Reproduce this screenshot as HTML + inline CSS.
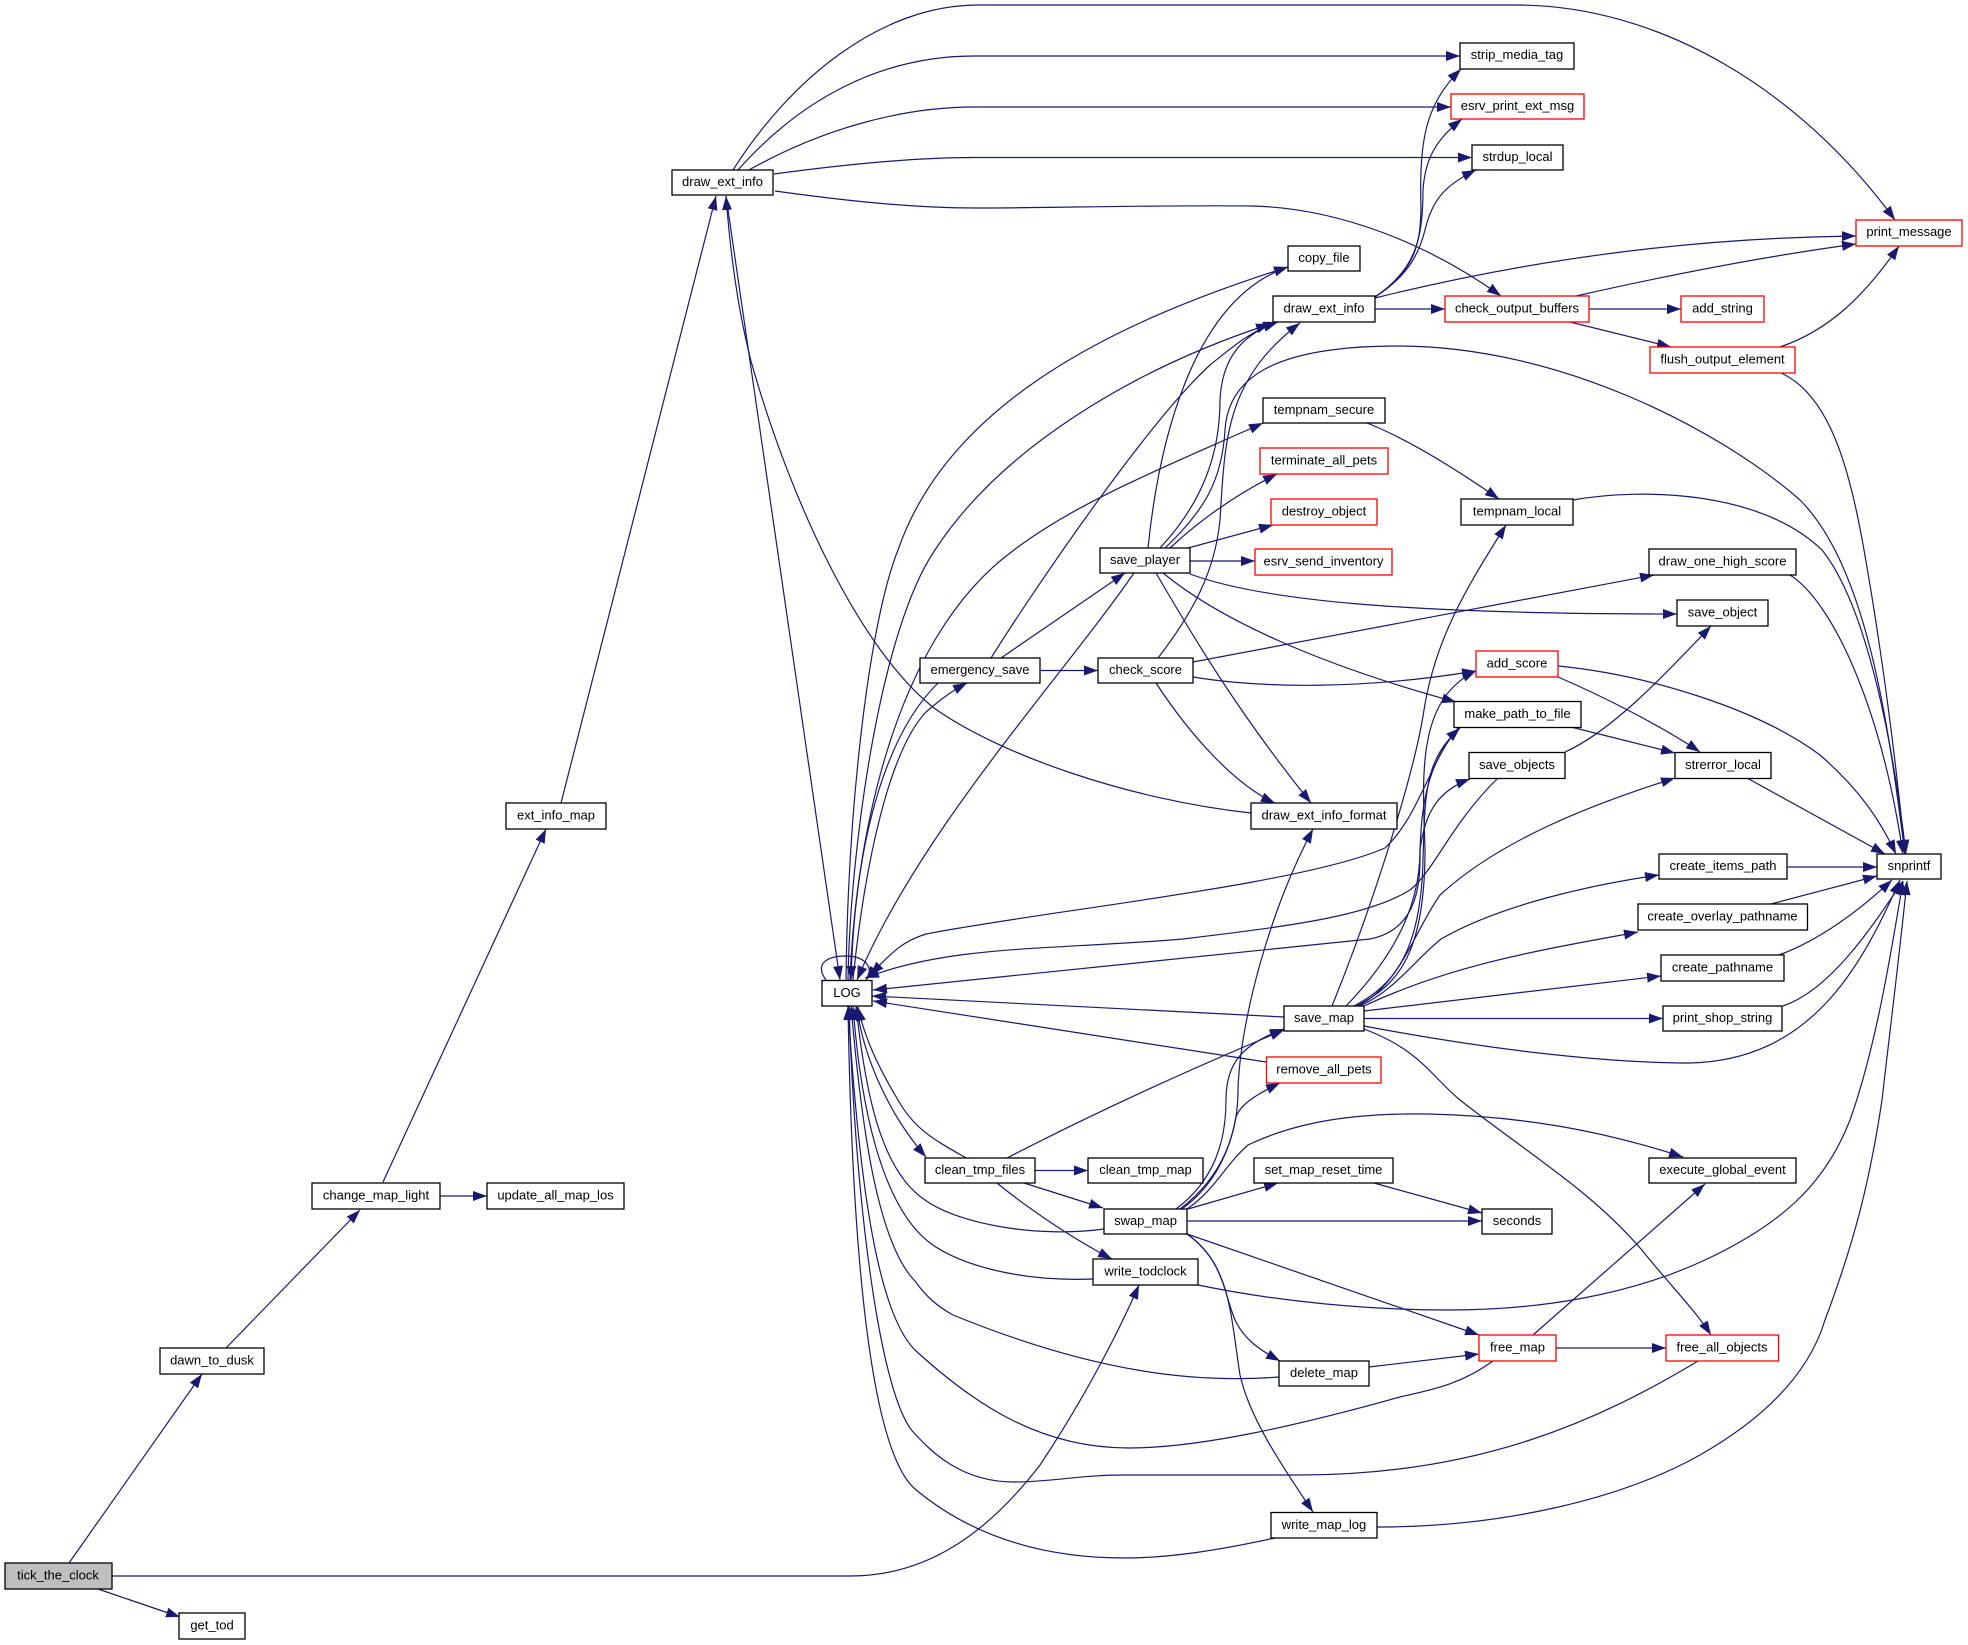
<!DOCTYPE html>
<html><head><meta charset="utf-8"><title>tick_the_clock call graph</title>
<style>
html,body{margin:0;padding:0;background:#fff}
svg{display:block;filter:blur(.3px)}
text{font-family:"Liberation Sans",sans-serif;font-size:13px;text-anchor:middle;fill:#000}
rect{fill:#fff;stroke:#000;stroke-width:1.3}
rect.r{stroke:#f00}
path.e{fill:none;stroke:#191970;stroke-width:1.2;marker-end:url(#a)}
</style></head><body>
<svg xmlns="http://www.w3.org/2000/svg" width="1968" height="1645" viewBox="0 0 1968 1645">
<defs><marker id="a" markerUnits="userSpaceOnUse" markerWidth="15" markerHeight="11" refX="14" refY="5" orient="auto"><path d="M0,0L14,5L0,10Z" fill="#191970"/></marker></defs>
<g>
<path class="e" d="M69,1563L202,1374"/>
<path class="e" d="M98,1589L180,1617"/>
<path class="e" d="M112,1576L850,1576C930,1576 990,1530 1040,1465C1080,1405 1115,1340 1139,1285"/>
<path class="e" d="M226,1348L360,1210"/>
<path class="e" d="M440,1196L487,1196"/>
<path class="e" d="M383,1182L546,829"/>
<path class="e" d="M561,803L716,196"/>
<path class="e" d="M733,170C790,80 880,5 978,5L1516,5C1660,5 1800,90 1895,220"/>
<path class="e" d="M738,170C800,100 880,56 974,56L1460,56"/>
<path class="e" d="M749,170C820,130 900,107 974,107L1451,107"/>
<path class="e" d="M774,174C840,165 910,157.500 974,157.500L1472,157.500"/>
<path class="e" d="M775,191C840,200 910,208 974,208C1050,208 1150,205 1252,206C1340,208 1430,245 1501,296"/>
<path class="e" d="M1375,297C1415,270 1420,245 1421,210C1419,140 1425,105 1461,69"/>
<path class="e" d="M1375,297C1415,270 1423,240 1423,190C1425,160 1435,140 1462,119"/>
<path class="e" d="M1375,297C1410,275 1420,250 1425,230C1432,200 1445,185 1476,170"/>
<path class="e" d="M1375,298C1520,262 1680,238 1856,236"/>
<path class="e" d="M1375,309L1445,309"/>
<path class="e" d="M1576,296C1660,277 1760,257 1856,244"/>
<path class="e" d="M1589,309L1681,309"/>
<path class="e" d="M1570,322L1671,347"/>
<path class="e" d="M1780,347C1830,330 1865,295 1899,246"/>
<path class="e" d="M1781,373C1830,395 1850,470 1864,550C1880,640 1895,750 1905,854"/>
<path class="e" d="M1573,500C1640,488 1760,490 1822,550C1870,610 1895,760 1906,854"/>
<path class="e" d="M1790,575C1830,600 1880,700 1903,854"/>
<path class="e" d="M1158,658C1195,610 1215,570 1220,520C1225,440 1225,380 1300,323"/>
<path class="e" d="M1165,548C1205,510 1222,480 1225,430C1228,380 1270,346 1398,346C1560,346 1720,430 1800,500C1870,570 1890,740 1905,854"/>
<path class="e" d="M1148,548C1158,450 1190,300 1288,267"/>
<path class="e" d="M1160,548C1205,500 1220,450 1220,400C1222,360 1240,335 1278,322"/>
<path class="e" d="M991,658C1040,580 1150,420 1210,365C1235,345 1250,332 1277,322"/>
<path class="e" d="M848,980C850,850 880,630 935,550C1000,450 1130,370 1270,324"/>
<path class="e" d="M846,980C848,800 870,620 898,550C950,400 1120,320 1288,267"/>
<path class="e" d="M850,980C855,850 890,640 1014,550C1080,500 1170,465 1263,423"/>
<path class="e" d="M1134,573C1060,680 920,830 857,980"/>
<path class="e" d="M1001,658L1125,573"/>
<path class="e" d="M726,196L840,980"/>
<path class="e" d="M1251,813C1130,800 1000,755 934,708C860,650 790,500 751,361C738,310 730,250 726,196"/>
<path class="e" d="M1170,548C1200,520 1235,495 1277,474"/>
<path class="e" d="M1188,548L1273,525"/>
<path class="e" d="M1190,561L1255,561"/>
<path class="e" d="M1190,574C1260,600 1400,614 1677,614"/>
<path class="e" d="M1163,573C1220,620 1320,665 1456,702"/>
<path class="e" d="M1156,573C1195,640 1240,715 1311,803"/>
<path class="e" d="M1193,662L1654,575"/>
<path class="e" d="M1193,677C1260,688 1360,690 1476,671"/>
<path class="e" d="M1156,683C1190,735 1235,785 1275,803"/>
<path class="e" d="M1040,670.500L1098,670.500"/>
<path class="e" d="M938,683C890,730 855,830 851,980"/>
<path class="e" d="M853,980C865,860 890,750 926,712C940,700 950,692 967,683"/>
<path class="e" d="M826,980C815,965 825,956 846,956C865,956 875,968 866,980"/>
<path class="e" d="M1459,727C1430,760 1420,815 1385,848C1300,885 1050,910 926,934C900,942 890,955 870,975"/>
<path class="e" d="M1498,778C1450,825 1435,870 1410,890C1370,915 1300,925 1183,939C1050,950 950,945 865,978"/>
<path class="e" d="M1459,727C1430,760 1420,800 1420,860C1420,905 1405,932 1370,939L873,990"/>
<path class="e" d="M1346,1006C1400,950 1420,900 1420,850C1425,810 1440,790 1470,779"/>
<path class="e" d="M1354,1006C1395,985 1421,950 1423,860C1425,790 1425,760 1460,728"/>
<path class="e" d="M1356,1006C1400,985 1425,950 1425,850C1423,780 1415,700 1476,671"/>
<path class="e" d="M1332,1006C1375,900 1415,770 1424,710C1435,640 1465,590 1506,525"/>
<path class="e" d="M1358,1006C1400,985 1415,930 1440,895C1500,840 1590,805 1675,778"/>
<path class="e" d="M1360,1006C1395,990 1415,960 1441,939C1500,905 1590,885 1659,875"/>
<path class="e" d="M1362,1007C1450,965 1540,950 1638,932"/>
<path class="e" d="M1364,1011L1661,976"/>
<path class="e" d="M1364,1018.500L1663,1018.500"/>
<path class="e" d="M1364,1026C1480,1048 1600,1063 1690,1063C1810,1060 1860,970 1900,880"/>
<path class="e" d="M1364,1029C1420,1050 1430,1075 1460,1100C1530,1155 1590,1190 1641,1249C1670,1285 1695,1310 1711,1335"/>
<path class="e" d="M1284,1017L872,996"/>
<path class="e" d="M1266,1062L873,1001"/>
<path class="e" d="M1787,867L1877,867"/>
<path class="e" d="M1771,904L1877,876"/>
<path class="e" d="M1779,955C1820,940 1860,910 1892,880"/>
<path class="e" d="M1783,1006C1830,990 1870,930 1903,881"/>
<path class="e" d="M1747,778L1885,854"/>
<path class="e" d="M1571,727L1675,753"/>
<path class="e" d="M1565,752C1610,732 1660,680 1711,626"/>
<path class="e" d="M1558,677C1600,695 1660,725 1700,752"/>
<path class="e" d="M1558,666C1650,675 1760,710 1820,755C1860,790 1880,820 1896,854"/>
<path class="e" d="M1367,423C1405,438 1450,465 1499,499"/>
<path class="e" d="M1187,1234L1479,1335"/>
<path class="e" d="M1369,1367L1479,1354"/>
<path class="e" d="M1556,1348L1666,1348"/>
<path class="e" d="M1533,1335L1705,1184"/>
<path class="e" d="M1493,1361C1460,1385 1430,1390 1400,1397C1300,1425 1200,1448 1129,1448C1040,1448 975,1405 915,1350C880,1315 860,1200 848,1006"/>
<path class="e" d="M1698,1361C1600,1420 1480,1475 1300,1475L1125,1475C1080,1475 1050,1482 1014,1482C960,1482 930,1450 915,1434C880,1400 855,1200 849,1006"/>
<path class="e" d="M1275,1538C1220,1550 1170,1558 1125,1558C1040,1558 970,1535 915,1489C870,1450 852,1250 848,1006"/>
<path class="e" d="M1279,1377C1200,1383 1100,1375 953,1315C935,1305 925,1295 915,1281C875,1240 860,1110 851,1006"/>
<path class="e" d="M1093,1279C1020,1282 960,1265 930,1243C880,1205 860,1100 853,1006"/>
<path class="e" d="M1104,1229C1040,1238 960,1225 925,1200C880,1170 865,1090 856,1006"/>
<path class="e" d="M966,1158C935,1140 915,1130 898,1100C880,1070 865,1040 858,1007"/>
<path class="e" d="M857,1007C862,1050 885,1110 926,1157"/>
<path class="e" d="M1035,1170.500L1088,1170.500"/>
<path class="e" d="M1024,1183L1103,1208"/>
<path class="e" d="M997,1183C1030,1210 1075,1240 1112,1259"/>
<path class="e" d="M1007,1158C1100,1110 1200,1065 1284,1030"/>
<path class="e" d="M1176,1209C1215,1180 1226,1140 1226,1100C1226,1065 1240,1045 1284,1029"/>
<path class="e" d="M1180,1209C1225,1175 1238,1130 1238,1090C1240,1020 1270,910 1313,829"/>
<path class="e" d="M1182,1209C1215,1185 1230,1150 1236,1117C1240,1105 1255,1095 1280,1083"/>
<path class="e" d="M1187,1209C1215,1190 1225,1165 1248,1145C1300,1120 1360,1113 1428,1114C1520,1116 1600,1130 1683,1157"/>
<path class="e" d="M1188,1209L1278,1183"/>
<path class="e" d="M1187,1221L1482,1221"/>
<path class="e" d="M1374,1183L1482,1213"/>
<path class="e" d="M1187,1234C1225,1260 1225,1300 1236,1322C1245,1340 1260,1350 1280,1361"/>
<path class="e" d="M1187,1234C1230,1265 1230,1310 1240,1375C1250,1420 1285,1470 1313,1512"/>
<path class="e" d="M1198,1285C1280,1302 1370,1310 1449,1310C1540,1310 1630,1295 1705,1260C1780,1225 1825,1185 1850,1120C1875,1050 1890,960 1903,881"/>
<path class="e" d="M1377,1527C1500,1527 1620,1500 1700,1455C1770,1415 1810,1370 1825,1320C1855,1240 1870,1180 1882,1100C1890,1030 1900,950 1907,881"/>
</g>
<g>
<rect x="5" y="1563" width="107" height="26" style="fill:#bfbfbf"/><text x="58" y="1579.500">tick_the_clock</text>
<rect x="160" y="1348" width="104" height="26"/><text x="212" y="1364.500">dawn_to_dusk</text>
<rect x="179" y="1613" width="66" height="26"/><text x="212" y="1629.500">get_tod</text>
<rect x="312" y="1183" width="128" height="26"/><text x="376" y="1199.500">change_map_light</text>
<rect x="487" y="1183" width="137" height="26"/><text x="555.500" y="1199.500">update_all_map_los</text>
<rect x="506" y="803" width="100" height="26"/><text x="556" y="819.500">ext_info_map</text>
<rect x="672" y="170" width="101" height="25"/><text x="722.500" y="186">draw_ext_info</text>
<rect x="1460" y="43" width="114" height="26"/><text x="1517" y="59">strip_media_tag</text>
<rect class="r" x="1451" y="94" width="133" height="25"/><text x="1517.500" y="110">esrv_print_ext_msg</text>
<rect x="1472" y="145" width="91" height="25"/><text x="1517.500" y="161">strdup_local</text>
<rect class="r" x="1856" y="220" width="106" height="26"/><text x="1909" y="236">print_message</text>
<rect x="1288" y="246" width="72" height="25"/><text x="1324" y="262">copy_file</text>
<rect x="1273" y="296" width="102" height="26"/><text x="1324" y="312.500">draw_ext_info</text>
<rect class="r" x="1445" y="296" width="144" height="26"/><text x="1517" y="312.500">check_output_buffers</text>
<rect class="r" x="1681" y="296" width="83" height="26"/><text x="1722.500" y="312.500">add_string</text>
<rect class="r" x="1650" y="347" width="145" height="26"/><text x="1722.500" y="363.500">flush_output_element</text>
<rect x="1263" y="398" width="122" height="25"/><text x="1324" y="414">tempnam_secure</text>
<rect class="r" x="1260" y="448" width="128" height="26"/><text x="1324" y="464.500">terminate_all_pets</text>
<rect class="r" x="1271" y="499" width="106" height="26"/><text x="1324" y="515.500">destroy_object</text>
<rect x="1461" y="499" width="112" height="26"/><text x="1517" y="515.500">tempnam_local</text>
<rect x="1100" y="548" width="90" height="25"/><text x="1145" y="564">save_player</text>
<rect class="r" x="1255" y="549" width="137" height="26"/><text x="1323.500" y="565.500">esrv_send_inventory</text>
<rect x="1649" y="549" width="147" height="26"/><text x="1722.500" y="565.500">draw_one_high_score</text>
<rect x="1677" y="600" width="91" height="26"/><text x="1722.500" y="616.500">save_object</text>
<rect x="920" y="658" width="120" height="25"/><text x="980" y="674">emergency_save</text>
<rect x="1098" y="658" width="95" height="25"/><text x="1145.500" y="674">check_score</text>
<rect class="r" x="1476" y="651" width="82" height="26"/><text x="1517" y="667.500">add_score</text>
<rect x="1454" y="701.500" width="127" height="26"/><text x="1517.500" y="718">make_path_to_file</text>
<rect x="1469" y="752.500" width="96" height="26"/><text x="1517" y="769">save_objects</text>
<rect x="1675" y="752.500" width="96" height="26"/><text x="1723" y="769">strerror_local</text>
<rect x="1251" y="803" width="146" height="26"/><text x="1324" y="819.500">draw_ext_info_format</text>
<rect x="1659" y="854" width="128" height="25"/><text x="1723" y="870">create_items_path</text>
<rect x="1877" y="854" width="64" height="25"/><text x="1909" y="870">snprintf</text>
<rect x="1638" y="904" width="169.500" height="26"/><text x="1722.500" y="920.500">create_overlay_pathname</text>
<rect x="1661" y="955" width="123" height="26"/><text x="1722.500" y="971.500">create_pathname</text>
<rect x="1663" y="1006" width="119" height="25"/><text x="1722.500" y="1022">print_shop_string</text>
<rect x="822" y="980.500" width="50" height="25.500"/><text x="847" y="997">LOG</text>
<rect x="1284" y="1006" width="80" height="25"/><text x="1324" y="1022">save_map</text>
<rect class="r" x="1266.500" y="1057" width="114.500" height="26"/><text x="1324" y="1073.500">remove_all_pets</text>
<rect x="925" y="1158" width="110" height="25"/><text x="980" y="1174">clean_tmp_files</text>
<rect x="1088" y="1158" width="115" height="25"/><text x="1145.500" y="1174">clean_tmp_map</text>
<rect x="1254" y="1158" width="139" height="25"/><text x="1323.500" y="1174">set_map_reset_time</text>
<rect x="1649" y="1158" width="147" height="25"/><text x="1722.500" y="1174">execute_global_event</text>
<rect x="1104" y="1209" width="83" height="25"/><text x="1145.500" y="1225">swap_map</text>
<rect x="1482" y="1209" width="70" height="25"/><text x="1517" y="1225">seconds</text>
<rect x="1093" y="1259" width="105" height="26"/><text x="1145.500" y="1275.500">write_todclock</text>
<rect x="1279" y="1361" width="90" height="25"/><text x="1324" y="1377">delete_map</text>
<rect class="r" x="1479" y="1335" width="77" height="26"/><text x="1517.500" y="1351.500">free_map</text>
<rect class="r" x="1666" y="1335" width="112.500" height="26"/><text x="1722" y="1351.500">free_all_objects</text>
<rect x="1271" y="1512.500" width="106" height="25.500"/><text x="1324" y="1529">write_map_log</text>
</g>
</svg>
</body></html>
